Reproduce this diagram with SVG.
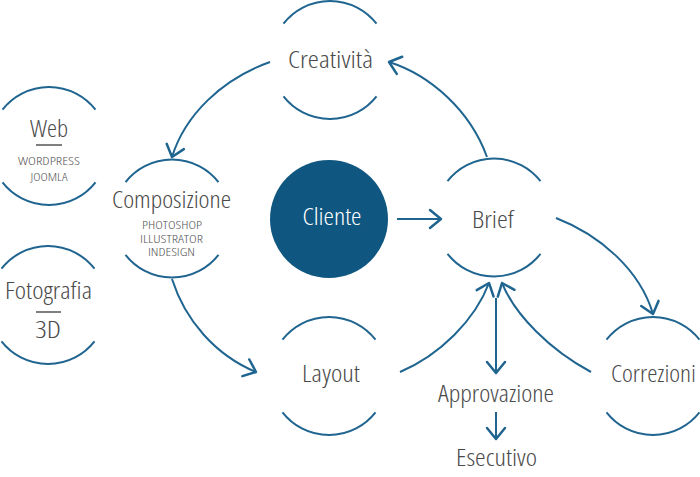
<svg xmlns="http://www.w3.org/2000/svg" xmlns:xlink="http://www.w3.org/1999/xlink" width="700" height="477" viewBox="0 0 700 477">
<style>
.arc{fill:none;stroke:#1f6590;stroke-width:2}
.con{fill:none;stroke:#1f6590;stroke-width:2;marker-end:url(#ah)}
.t{font-family:"Open Sans","DejaVu Sans Condensed",sans-serif;font-weight:300;font-stretch:condensed;font-size:24px;fill:#4a4a4a;text-anchor:middle}
.s{font-family:"Open Sans","DejaVu Sans Condensed",sans-serif;font-weight:300;font-stretch:condensed;font-size:11px;fill:#555555;text-anchor:middle}
.w{fill:#ffffff}
.u{stroke:#555;stroke-width:1.5}
</style>
<defs>
<path id="ring" d="M-46.5,-36.3 A59,59 0 0 1 46.5,-36.3 M-46.5,36.3 A59,59 0 0 0 46.5,36.3"/>
<marker id="ah" markerUnits="userSpaceOnUse" viewBox="-15 -15 30 30" markerWidth="30" markerHeight="30" refX="0" refY="0" orient="auto">
<path d="M-11,-9 L0,0 L-11,9" fill="none" stroke="#1f6590" stroke-width="2.5" stroke-linecap="round" stroke-linejoin="round"/>
</marker>
</defs>
<rect width="700" height="477" fill="#ffffff"/>
<g id="connectors">
<path class="con" d="M270,62 C222,79 185,115 172,157"/>
<path class="con" d="M487,157 C470,110 430,75 389,62"/>
<path class="con" d="M397,219 L441,219"/>
<path class="con" d="M556,218 C600,235 640,270 653,314"/>
<path class="con" d="M172,279 C185,320 215,355 256,372"/>
<path class="con" d="M400,372 C440,355 475,320 489,283"/>
<path class="con" d="M591,372 C550,350 515,315 502,283"/>
<path class="con" d="M496,298 L496,373"/>
<path class="con" d="M496,412 L496,439"/>
</g>
<g id="creativita">
<use xlink:href="#ring" href="#ring" class="arc" x="330" y="60"/>
<text class="t" x="330.5" y="68" textLength="85" lengthAdjust="spacingAndGlyphs">Creatività</text>
</g>
<g id="web">
<use xlink:href="#ring" href="#ring" class="arc" x="49" y="146"/>
<text class="t" x="49" y="137" textLength="38" lengthAdjust="spacingAndGlyphs">Web</text>
<line class="u" x1="36" y1="145" x2="62" y2="145"/>
<text class="s" x="49" y="165" textLength="62" lengthAdjust="spacingAndGlyphs">WORDPRESS</text>
<text class="s" x="49" y="181" textLength="37" lengthAdjust="spacingAndGlyphs">JOOMLA</text>
</g>
<g id="fotografia">
<use xlink:href="#ring" href="#ring" class="arc" x="48" y="305"/>
<text class="t" x="48.5" y="299" textLength="87" lengthAdjust="spacingAndGlyphs">Fotografia</text>
<line class="u" x1="36" y1="312" x2="61" y2="312"/>
<text class="t" x="48" y="338" textLength="26" lengthAdjust="spacingAndGlyphs">3D</text>
</g>
<g id="composizione">
<use xlink:href="#ring" href="#ring" class="arc" x="172" y="218.5"/>
<text class="t" x="171.5" y="208" textLength="119" lengthAdjust="spacingAndGlyphs">Composizione</text>
<text class="s" x="172" y="229" textLength="60" lengthAdjust="spacingAndGlyphs">PHOTOSHOP</text>
<text class="s" x="171.5" y="243" textLength="63" lengthAdjust="spacingAndGlyphs">ILLUSTRATOR</text>
<text class="s" x="171.5" y="256" textLength="47" lengthAdjust="spacingAndGlyphs">INDESIGN</text>
</g>
<g id="cliente">
<circle cx="329" cy="219" r="59" fill="#0f5680"/>
<text class="t w" x="332" y="225" textLength="59" lengthAdjust="spacingAndGlyphs">Cliente</text>
</g>
<g id="brief">
<use xlink:href="#ring" href="#ring" class="arc" x="494" y="217.5"/>
<text class="t" x="493" y="228" textLength="42" lengthAdjust="spacingAndGlyphs">Brief</text>
</g>
<g id="layout">
<use xlink:href="#ring" href="#ring" class="arc" x="329" y="376"/>
<text class="t" x="331" y="382" textLength="58" lengthAdjust="spacingAndGlyphs">Layout</text>
</g>
<g id="correzioni">
<use xlink:href="#ring" href="#ring" class="arc" x="653" y="376"/>
<text class="t" x="653.5" y="382" textLength="85" lengthAdjust="spacingAndGlyphs">Correzioni</text>
</g>
<g id="approvazione">
<text class="t" x="496" y="402" textLength="116" lengthAdjust="spacingAndGlyphs">Approvazione</text>
</g>
<g id="esecutivo">
<text class="t" x="496.5" y="466" textLength="81" lengthAdjust="spacingAndGlyphs">Esecutivo</text>
</g>
</svg>
